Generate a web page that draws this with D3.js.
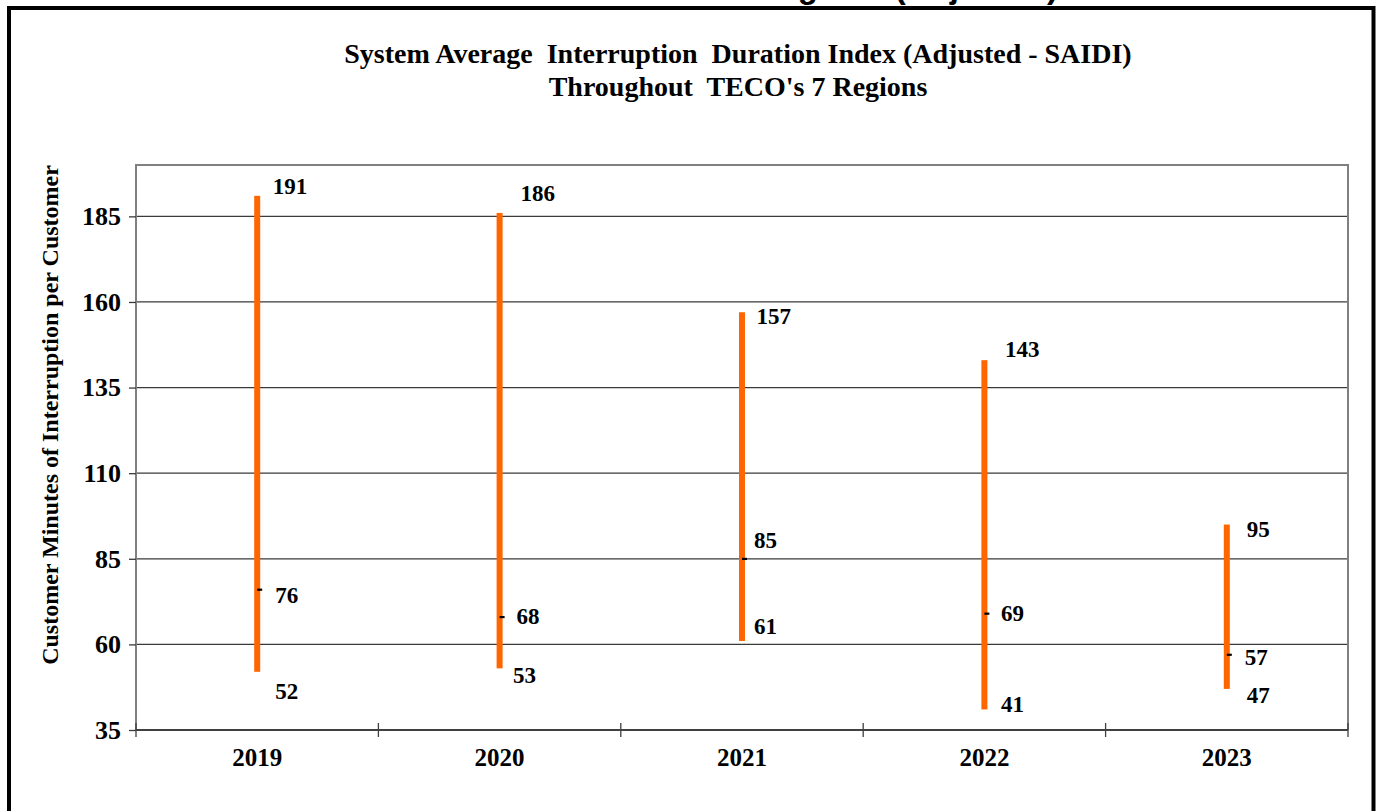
<!DOCTYPE html>
<html>
<head>
<meta charset="utf-8">
<script src="https://cdn.jsdelivr.net/npm/d3@7"></script>
<style>
  html, body { margin: 0; padding: 0; background: #fff; }
  svg { display: block; }
  text { white-space: pre; }
</style>
</head>
<body>
<svg id="chart" width="1376" height="811"></svg>
<script>
// SAIDI range per year across the 7 regions: high, low and system value
const years = ["2019", "2020", "2021", "2022", "2023"];
const highValues = [191, 186, 157, 143, 95];
const lowValues = [52, 53, 61, 41, 47];
const systemValues = [76, 68, 85, 69, 57];
const yTickValues = [35, 60, 85, 110, 135, 160, 185];

const titleLines = [
  "System Average  Interruption  Duration Index (Adjusted - SAIDI)",
  "Throughout  TECO's 7 Regions"
];
const yAxisTitle = "Customer Minutes of Interruption per Customer";
const pageHeading = "Regions (Adjusted)";

// hand-placed label offsets (dx, dy from the mark end) per year
const labelNudge = [
  { high: [15.5, -2], sys: [18, 13.5], low: [18, 27] },
  { high: [21, -12], sys: [17, 7], low: [13.5, 14.5] },
  { high: [14.5, 12], sys: [12, -11], low: [12, -7] },
  { high: [20.5, -3.5], sys: [16.5, 7.5], low: [16.5, 2.5] },
  { high: [20, 12.5], sys: [18, 10.5], low: [20, 14] }
];

const svg = d3.select("#chart");
const serif = "'Liberation Serif', 'Times New Roman', serif";

const plot = { left: 136, right: 1348, top: 165, bottom: 730 };

const x = d3.scaleBand().domain(years).range([plot.left, plot.right]).padding(0);
const y = d3.scaleLinear().domain([35, 200]).range([plot.bottom, plot.top]);

// heading of the page, mostly above the visible area
svg.append("text")
  .attr("x", 1058).attr("y", -2)
  .attr("text-anchor", "end")
  .style("font-family", "'Liberation Sans', Arial, sans-serif")
  .style("font-weight", "bold")
  .style("font-size", "33px")
  .attr("fill", "#000")
  .text(pageHeading);

// outer frame
svg.append("rect")
  .attr("x", 9).attr("y", 8)
  .attr("width", 1364.5).attr("height", 900)
  .attr("fill", "none").attr("stroke", "#000").attr("stroke-width", 4);

// chart title
svg.append("g").selectAll("text").data(titleLines).join("text")
  .attr("x", 738)
  .attr("y", (d, i) => 63 + i * 33)
  .attr("text-anchor", "middle")
  .style("font-family", serif)
  .style("font-weight", "bold")
  .style("font-size", "28px")
  .text(d => d);

// horizontal gridlines
svg.append("g").selectAll("line").data(yTickValues.filter(v => v > 35)).join("line")
  .attr("x1", plot.left).attr("x2", plot.right)
  .attr("y1", d => y(d)).attr("y2", d => y(d))
  .attr("stroke", "#3a3a3a").attr("stroke-width", 1.3);

// plot area frame (left, top, right)
svg.append("path")
  .attr("d", `M${plot.left},${plot.bottom}V${plot.top}H${plot.right}V${plot.bottom}`)
  .attr("fill", "none").attr("stroke", "#808080").attr("stroke-width", 2);

// y axis
const yAxis = svg.append("g")
  .attr("transform", `translate(${plot.left},0)`)
  .call(d3.axisLeft(y).tickValues(yTickValues).tickSize(7).tickPadding(8).tickFormat(d3.format("d")));
yAxis.select(".domain").remove();
yAxis.selectAll(".tick line").attr("stroke", "#3a3a3a").attr("stroke-width", 1.3);
yAxis.selectAll(".tick text")
  .style("font-family", serif).style("font-weight", "bold").style("font-size", "26px")
  .attr("fill", "#000");

// x axis with ticks at category boundaries
const xg = svg.append("g");
xg.append("line")
  .attr("x1", plot.left).attr("x2", plot.right)
  .attr("y1", plot.bottom).attr("y2", plot.bottom)
  .attr("stroke", "#404040").attr("stroke-width", 2);
const boundaries = years.map(d => x(d)).concat([x(years[years.length - 1]) + x.bandwidth()]);
xg.selectAll("line.bound").data(boundaries).join("line")
  .attr("class", "bound")
  .attr("x1", d => d).attr("x2", d => d)
  .attr("y1", plot.bottom - 7).attr("y2", plot.bottom + 7)
  .attr("stroke", "#404040").attr("stroke-width", 1.3);
xg.selectAll("text").data(years).join("text")
  .attr("x", d => x(d) + x.bandwidth() / 2)
  .attr("y", 766)
  .attr("text-anchor", "middle")
  .style("font-family", serif).style("font-weight", "bold").style("font-size", "25px")
  .text(d => d);

// y axis title
svg.append("text")
  .attr("transform", `translate(58,${(plot.top + 665) / 2}) rotate(-90)`)
  .attr("text-anchor", "middle")
  .style("font-family", serif).style("font-weight", "bold").style("font-size", "24px")
  .text(yAxisTitle);

// high-low bars
const rows = years.map((yr, i) => ({
  year: yr, high: highValues[i], low: lowValues[i], sys: systemValues[i], nudge: labelNudge[i]
}));
const cx = d => x(d.year) + x.bandwidth() / 2;

const marks = svg.append("g");
marks.selectAll("rect.hl").data(rows).join("rect")
  .attr("class", "hl")
  .attr("x", d => cx(d) - 3)
  .attr("y", d => y(d.high))
  .attr("width", 6)
  .attr("height", d => y(d.low) - y(d.high))
  .attr("fill", "#ff6600");

// system value marker
marks.selectAll("rect.sys").data(rows).join("rect")
  .attr("class", "sys")
  .attr("x", d => cx(d))
  .attr("y", d => y(d.sys) - 1)
  .attr("width", 5)
  .attr("height", 2.2)
  .attr("fill", "#000");

// value labels
const labelData = rows.flatMap(d => [
  { v: d.high, x: cx(d) + d.nudge.high[0], y: y(d.high) + d.nudge.high[1] },
  { v: d.sys, x: cx(d) + d.nudge.sys[0], y: y(d.sys) + d.nudge.sys[1] },
  { v: d.low, x: cx(d) + d.nudge.low[0], y: y(d.low) + d.nudge.low[1] }
]);
marks.selectAll("text").data(labelData).join("text")
  .attr("x", d => d.x).attr("y", d => d.y)
  .style("font-family", serif).style("font-weight", "bold").style("font-size", "23px")
  .text(d => d.v);
</script>
</body>
</html>
